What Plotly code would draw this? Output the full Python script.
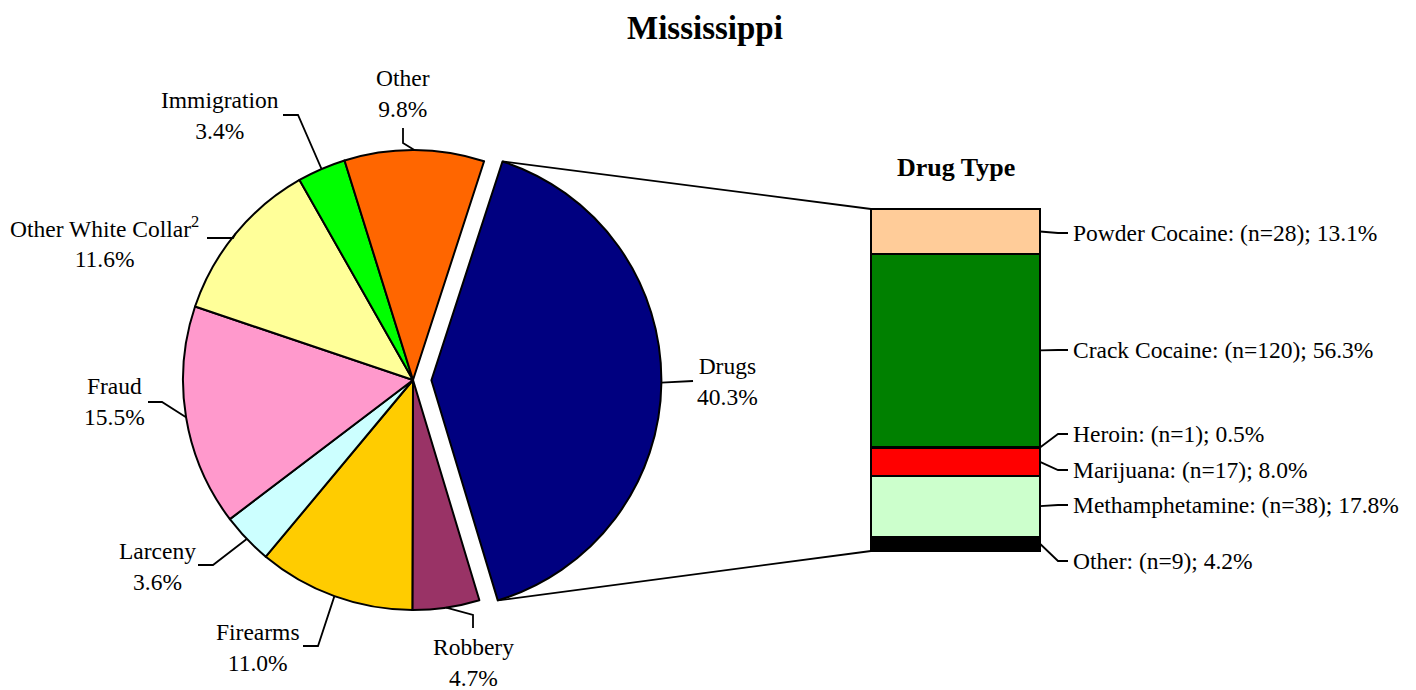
import math
import plotly.graph_objects as go

# ---------------- data ----------------
pie_labels = ["Drugs", "Robbery", "Firearms", "Larceny", "Fraud",
              "Other White Collar<sup>2</sup>", "Immigration", "Other"]
pie_values = [40.3, 4.7, 11.0, 3.6, 15.5, 11.6, 3.4, 9.8]

drug_types = ["Powder Cocaine", "Crack Cocaine", "Heroin", "Marijuana",
              "Methamphetamine", "Other"]
drug_counts = [28, 120, 1, 17, 38, 9]
drug_pcts = [13.1, 56.3, 0.5, 8.0, 17.8, 4.2]

title_text = "Mississippi"
bar_title = "Drug Type"

# ---------------- styles / layout ----------------
pie_colors = ["#000080", "#993366", "#FFCC00", "#CCFFFF", "#FF99CC",
              "#FFFF99", "#00FF00", "#FF6600"]
drug_colors = ["#FFCC99", "#008000", "#000000", "#FF0000", "#CCFFCC", "#000000"]

W, H = 1416, 690
OFF = 8  # page body margin
FONT = "Liberation Serif"

PIE_CX, PIE_CY, PIE_R = 413.0, 380.0, 230.0
PULL = 0.08
ROTATION = 18.0
pulls = [PULL] + [0] * (len(pie_values) - 1)

BAR_L, BAR_R, BAR_TOP, BAR_BOT = 871.0, 1040.0, 209.0, 551.0

# pie label layout (page pixels): text centre, elbow, leader end
pie_label_layout = [
    ((727, 381), (693, 381), (693, 381)),   # Drugs
    ((473, 662), (473, 615), (473, 628)),   # Robbery
    ((258, 647), (318, 646), (303, 646)),   # Firearms
    ((157, 566), (213, 565), (198, 565)),   # Larceny
    ((114, 401), (162, 402), (148, 402)),   # Fraud
    ((105, 242), (233, 238), (207, 238)),   # Other White Collar
    ((220, 116), (298, 115), (283, 115)),   # Immigration
    ((403, 93), (403, 143), (403, 128)),    # Other
]
# bar label y positions (page pixels)
bar_label_y = [233, 350, 434, 470, 505, 561]


def px(x):
    return (x - OFF) / W


def py(y):
    return 1 - (y - OFF) / H


# ---------------- pie ----------------
half = PIE_R * (1 + PULL)
fig = go.Figure()
fig.add_trace(go.Pie(
    labels=pie_labels, values=pie_values, sort=False, direction="clockwise",
    rotation=ROTATION, pull=pulls, textinfo="none", hoverinfo="label+value",
    marker=dict(colors=pie_colors, line=dict(color="black", width=2)),
    domain=dict(x=[px(PIE_CX - half), px(PIE_CX + half)],
                y=[py(PIE_CY + half), py(PIE_CY - half)]),
    showlegend=False,
))

# slice geometry from data
total = sum(pie_values)
angles = []
cum = 0.0
for v in pie_values:
    a0 = ROTATION + cum / total * 360
    cum += v
    a1 = ROTATION + cum / total * 360
    angles.append((a0, a1))


def pie_point(ang, i, rad=PIE_R):
    mid = math.radians((angles[i][0] + angles[i][1]) / 2)
    ox = pulls[i] * PIE_R * math.sin(mid)
    oy = -pulls[i] * PIE_R * math.cos(mid)
    a = math.radians(ang)
    return (PIE_CX + ox + rad * math.sin(a), PIE_CY + oy - rad * math.cos(a))


shapes = []
annotations = []
line_style = dict(color="black", width=1.8)

for i, lab in enumerate(pie_labels):
    mid = (angles[i][0] + angles[i][1]) / 2
    sx, sy = pie_point(mid, i)
    (tx, ty), (ex, ey), (lx, ly) = pie_label_layout[i]
    path = f"M {px(sx)} {py(sy)} L {px(ex)} {py(ey)} L {px(lx)} {py(ly)}"
    shapes.append(dict(type="path", path=path, xref="paper", yref="paper",
                       line=line_style))
    annotations.append(dict(
        text=f"{lab}<br>{pie_values[i]:.1f}%", x=px(tx), y=py(ty),
        xref="paper", yref="paper", xanchor="center", yanchor="middle",
        showarrow=False, font=dict(family=FONT, size=23.5, color="black"),
        align="center"))

# ---------------- stacked bar ----------------
bar_total = sum(drug_counts)
pad = 10.0
dom_x = [px(BAR_L - pad), px(BAR_R + pad)]
dom_y = [py(BAR_BOT + pad), py(BAR_TOP - pad)]
bw_px = BAR_R - BAR_L
x_half = 0.5 * (bw_px + 2 * pad) / bw_px
v_per_px = bar_total / (BAR_BOT - BAR_TOP)

for name, n, col in reversed(list(zip(drug_types, drug_counts, drug_colors))):
    fig.add_trace(go.Bar(
        x=[0], y=[n], width=[1], name=name, marker=dict(
            color=col, line=dict(color="black", width=2)),
        showlegend=False, hoverinfo="name+y", xaxis="x", yaxis="y"))


def bar_y(v):
    return BAR_BOT - v / v_per_px


# bar label leaders: bottom-up cumulative positions
cum_from_bottom = []
acc = 0
for n in reversed(drug_counts):
    cum_from_bottom.append((acc, acc + n))
    acc += n
cum_from_bottom = list(reversed(cum_from_bottom))

for i, name in enumerate(drug_types):
    lo, hi = cum_from_bottom[i]
    my = bar_y((lo + hi) / 2)
    ly = bar_label_y[i]
    ex, lx = BAR_R + 18, BAR_R + 28
    path = f"M {px(BAR_R)} {py(my)} L {px(ex)} {py(ly)} L {px(lx)} {py(ly)}"
    shapes.append(dict(type="path", path=path, xref="paper", yref="paper",
                       line=line_style))
    annotations.append(dict(
        text=f"{name}: (n={drug_counts[i]}); {drug_pcts[i]:.1f}%",
        x=px(lx + 3), y=py(ly), xref="paper", yref="paper", xanchor="left",
        yanchor="middle", showarrow=False,
        font=dict(family=FONT, size=23.5, color="black")))

# connectors from exploded slice to bar
top_pt = pie_point(angles[0][0], 0)
bot_pt = pie_point(angles[0][1], 0)
for (sx, sy), by in ((top_pt, bar_y(bar_total)), (bot_pt, bar_y(0))):
    shapes.append(dict(type="line", xref="paper", yref="paper",
                       x0=px(sx), y0=py(sy), x1=px(BAR_L), y1=py(by),
                       line=line_style))

# titles
annotations.append(dict(text=f"<b>{title_text}</b>", x=px(704.5), y=py(28),
                        xref="paper", yref="paper", showarrow=False,
                        xanchor="center", yanchor="middle",
                        font=dict(family=FONT, size=33, color="black")))
annotations.append(dict(text=f"<b>{bar_title}</b>", x=px((BAR_L + BAR_R) / 2),
                        y=py(167), xref="paper", yref="paper", showarrow=False,
                        xanchor="center", yanchor="middle",
                        font=dict(family=FONT, size=26, color="black")))

fig.update_layout(
    width=W, height=H, margin=dict(l=0, r=0, t=0, b=0),
    paper_bgcolor="white", plot_bgcolor="rgba(0,0,0,0)",
    barmode="stack", bargap=0,
    xaxis=dict(domain=dom_x, range=[-x_half, x_half], visible=False,
               fixedrange=True),
    yaxis=dict(domain=dom_y, range=[-pad * v_per_px, bar_total + pad * v_per_px],
               visible=False, fixedrange=True),
    shapes=shapes, annotations=annotations,
    font=dict(family=FONT, color="black"),
)

fig.write_html("out.html")
